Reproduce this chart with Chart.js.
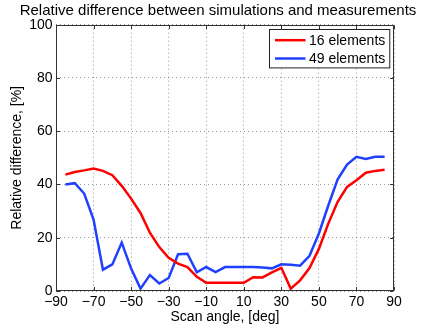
<!DOCTYPE html>
<html><head><meta charset="utf-8">
<script src="https://cdn.jsdelivr.net/npm/chart.js@4/dist/chart.umd.min.js"></script>
<style>html,body{margin:0;padding:0;background:#fff}</style>
</head><body>
<canvas id="c" width="436" height="328"></canvas>
<script>
const angles = [-85,-80,-75,-70,-65,-60,-55,-50,-45,-40,-35,-30,-25,-20,-15,-10,-5,0,5,10,15,20,25,30,35,40,45,50,55,60,65,70,75,80,85];
const elements16 = [43.7,44.7,45.3,46.0,45.1,43.5,39.5,34.7,29.3,21.9,16.5,12.5,10.3,9.0,5.3,3.1,3.1,3.1,3.1,3.1,5.2,5.1,7.0,8.7,0.9,4.0,8.6,15.8,25.3,33.5,39.1,41.6,44.4,45.1,45.5];
const elements49 = [40.0,40.5,36.6,26.8,8.0,10.0,18.2,8.4,0.9,6.0,2.8,4.9,13.8,14.0,7.0,9.0,7.1,9.0,9.0,9.0,9.0,8.8,8.5,10.0,9.9,9.5,13.2,21.6,32.1,41.9,47.5,50.4,49.6,50.4,50.4];
const seriesLabels = ['16 elements','49 elements'];
const xTicks = [-90,-70,-50,-30,-10,10,30,50,70,90];
const yTicks = [0,20,40,60,80,100];
const titleText = 'Relative difference between simulations and measurements';
const xTitle = 'Scan angle, [deg]';
const yTitle = 'Relative difference, [%]';

const FONT = 'Liberation Sans, Arial, Helvetica, sans-serif';
const toPts = arr => arr.map((v,i)=>({x:angles[i], y:v}));

const boxPlugin = {
  id:'boxPlugin',
  afterDatasetsDraw(chart){
    const {ctx, chartArea:a, scales:{x,y}} = chart;
    ctx.save();
    ctx.strokeStyle = '#333';
    ctx.lineWidth = 1;
    const L=Math.round(a.left)+0.5, R=Math.round(a.right)-0.5, T=Math.round(a.top)+0.5, B=Math.round(a.bottom)-0.5;
    ctx.strokeRect(L,T,R-L,B-T);
    ctx.beginPath();
    const tl=3.5;
    xTicks.forEach(v=>{const px=Math.round(x.getPixelForValue(v))+0.5; ctx.moveTo(px,B); ctx.lineTo(px,B-tl); ctx.moveTo(px,T); ctx.lineTo(px,T+tl);});
    yTicks.forEach(v=>{const py=Math.round(y.getPixelForValue(v))+0.5; ctx.moveTo(L,py); ctx.lineTo(L+tl,py); ctx.moveTo(R,py); ctx.lineTo(R-tl,py);});
    ctx.stroke();
    ctx.restore();
  },
  afterDraw(chart){
    const {ctx, chartArea:a} = chart;
    ctx.save();
    ctx.font = '14px ' + FONT;
    const tw = Math.max(...chart.data.datasets.map(d=>ctx.measureText(d.label).width));
    const padL=5.5, lineW=30.5, gap=3.5, padR=4.5, rowH=18.3;
    const w = padL+lineW+gap+tw+padR;
    const h = 38.4;
    const bx = Math.round(a.right - 5 - w)+0.5, by = Math.round(a.top + 4.6)+0.5;
    ctx.fillStyle='#fff';
    ctx.fillRect(bx,by,w,h);
    ctx.strokeStyle='#222'; ctx.lineWidth=1;
    ctx.strokeRect(bx,by,w,h);
    chart.data.datasets.forEach((d,i)=>{
      const cy = by + 10.7 + i*rowH;
      ctx.strokeStyle=d.borderColor; ctx.lineWidth=2.5;
      ctx.beginPath(); ctx.moveTo(bx+padL,cy); ctx.lineTo(bx+padL+lineW,cy); ctx.stroke();
      ctx.fillStyle='#000'; ctx.textBaseline='middle'; ctx.textAlign='left';
      ctx.fillText(d.label, bx+padL+lineW+gap, cy+0.5);
    });
    ctx.restore();
  }
};

new Chart(document.getElementById('c'), {
  type:'line',
  data:{datasets:[
    {label:seriesLabels[0], data:toPts(elements16), borderColor:'#ff0000', backgroundColor:'#ff0000', borderWidth:2.5, pointRadius:0, tension:0, fill:false},
    {label:seriesLabels[1], data:toPts(elements49), borderColor:'#2040ff', backgroundColor:'#2040ff', borderWidth:2.5, pointRadius:0, tension:0, fill:false}
  ]},
  options:{
    responsive:false, animation:false, devicePixelRatio:1,
    layout:{padding:{left:0,right:0,top:0,bottom:0}},
    plugins:{
      legend:{display:false}, tooltip:{enabled:false},
      title:{display:true, text:titleText, color:'#000', font:{family:FONT,size:15,weight:'normal'}, padding:{top:1.5,bottom:5.2}}
    },
    scales:{
      x:{type:'linear', min:-90, max:90,
        afterBuildTicks:s=>{s.ticks = xTicks.map(v=>({value:v}));},
        afterFit:s=>{s.height=37;},
        ticks:{color:'#000', font:{family:FONT,size:14}, padding:3, maxRotation:0, autoSkip:false,
          callback:v=> (v<0?'\u2212'+Math.abs(v):String(v))},
        grid:{color:'rgba(0,0,0,0.4)', drawTicks:false, lineWidth:1},
        border:{display:false, dash:[1,3]},
        title:{display:true, text:xTitle, color:'#000', font:{family:FONT,size:14}, padding:{top:0,bottom:2.6}}
      },
      y:{type:'linear', min:0, max:100,
        afterBuildTicks:s=>{s.ticks = yTicks.map(v=>({value:v}));},
        afterFit:s=>{s.width=56;},
        ticks:{color:'#000', font:{family:FONT,size:14}, padding:3.5, autoSkip:false},
        grid:{color:'rgba(0,0,0,0.4)', drawTicks:false, lineWidth:1},
        border:{display:false, dash:[1,3]},
        title:{display:true, text:yTitle, color:'#000', font:{family:FONT,size:14}, padding:{top:8.6,bottom:0}}
      },
      yRightSpace:{type:'linear', position:'right', min:0, max:100, display:true,
        afterFit:s=>{s.width=42;},
        ticks:{display:false}, grid:{display:false, drawTicks:false}, border:{display:false}, title:{display:false}
      }
    }
  },
  plugins:[boxPlugin]
});
</script>
</body></html>
